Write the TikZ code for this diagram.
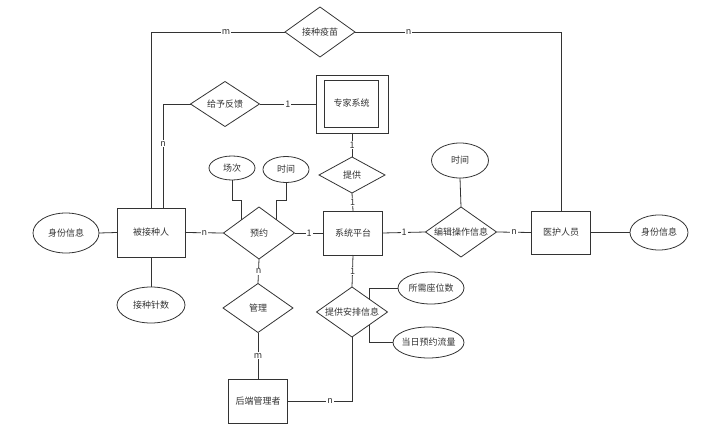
\documentclass[tikz,border=0pt]{standalone}
\usepackage{fontspec}
\setmainfont{Noto Sans CJK SC}
\usetikzlibrary{shapes.geometric}
\definecolor{ink}{HTML}{333333}

\begin{document}
\begin{tikzpicture}[x=1pt, y=-1pt, line width=0.8pt, color=ink,
    font=\fontsize{9}{9}\selectfont,
    ent/.style={draw, rectangle, inner sep=0pt, outer sep=0pt},
    rel/.style={draw, diamond, inner sep=0pt, outer sep=0pt, label={center:#1}},
    attr/.style={draw, ellipse, inner sep=0pt, outer sep=0pt, label={center:#1}},
    card/.style={fill=white, inner sep=1pt, font=\fontsize{9}{9}\selectfont}]
        \useasboundingbox (0,0) rectangle (709,433);

        % Entities
        \node[ent, minimum width=68pt, minimum height=49pt] (bjzr) at (151,232.5) {被接种人};
        \node[ent, minimum width=59pt, minimum height=44pt] (xtpt) at (353,233) {系统平台};
        \node[ent, minimum width=59pt, minimum height=43pt] (yhry) at (561,232.5) {医护人员};
        \node[ent, minimum width=59pt, minimum height=44pt] (hdgl) at (258,401) {后端管理者};
        \node[ent, minimum width=72pt, minimum height=58pt] (zjxt) at (352,104) {};
        \node[ent, minimum width=54pt, minimum height=47pt] (zjxtin) at (351.5,103.5) {专家系统};

        % Relationships
        \node[rel=接种疫苗, minimum width=70pt, minimum height=50pt] (jzym) at (320,32) {};
        \node[rel=给予反馈, minimum width=69pt, minimum height=45pt] (gyfk) at (225,104) {};
        \node[rel=提供, minimum width=66pt, minimum height=36pt] (tg) at (352,175) {};
        \node[rel=预约, minimum width=71pt, minimum height=52pt] (yy) at (259,233) {};
        \node[rel=编辑操作信息, minimum width=71pt, minimum height=50pt] (bjcz) at (461,232) {};
        \node[rel=管理, minimum width=70pt, minimum height=49pt] (gl) at (258,308) {};
        \node[rel=提供安排信息, minimum width=71pt, minimum height=50pt] (tgap) at (352,312) {};

        % Attributes
        \node[attr=身份信息, minimum width=66pt, minimum height=40pt] (sfxx) at (66,233) {};
        \node[attr=接种针数, minimum width=68pt, minimum height=36pt] (jzzs) at (151,305) {};
        \node[attr=场次, minimum width=46pt, minimum height=24pt] (cc) at (232,168) {};
        \node[attr=时间, minimum width=46pt, minimum height=26pt] (sjyy) at (286,169.5) {};
        \node[attr=时间, minimum width=57pt, minimum height=35pt] (sjbj) at (460,160.5) {};
        \node[attr=身份信息, minimum width=58pt, minimum height=35pt] (sfxxyh) at (659,232.5) {};
        \node[attr=所需座位数, minimum width=66pt, minimum height=32pt] (sxzw) at (431,288) {};
        \node[attr=当日预约流量, minimum width=71pt, minimum height=31pt] (drll) at (428.5,342.5) {};

        % Top links
        \draw (jzym.west) -| node[card, pos=0.22] {m} (bjzr.north);
        \draw (jzym.east) -| node[card, pos=0.13] {n} (yhry.north);
        \draw (gyfk.west) -| node[card, pos=0.69] {n} ([xshift=12pt]bjzr.north);
        \draw (gyfk.east) -- node[card] {1} (zjxt.west);
        \draw (zjxt.south) -- node[card] {1} (tg.north);
        \draw (tg.south) -- node[card] {1} (xtpt.north);

        % Middle row
        \draw (sfxx.east) -- (bjzr.west);
        \draw (bjzr.south) -- (jzzs.north);
        \draw (bjzr.east) -- node[card] {n} (yy.west);
        \draw (yy.east) -- node[card] {1} (xtpt.west);
        \draw (xtpt.east) -- node[card] {1} (bjcz.west);
        \draw (bjcz.east) -- node[card] {n} (yhry.west);
        \draw (yhry.east) -- (sfxxyh.west);
        \draw (sjbj.south) -- (bjcz.north);
        \draw (cc.south) -- ++(0,20) -| (yy.north west);
        \draw (sjyy.south) -- ++(0,17.5) -| (yy.north east);

        % Lower part
        \draw (yy.south) -- node[card] {n} (gl.north);
        \draw (gl.south) -- node[card] {m} (hdgl.north);
        \draw (xtpt.south) -- node[card] {1} (tgap.north);
        \draw (tgap.north east) |- (sxzw.west);
        \draw (tgap.south east) |- (drll.west);
        \draw (tgap.south) |- node[card, pos=0.67] {n} (hdgl.east);
    \end{tikzpicture}
\end{document}
